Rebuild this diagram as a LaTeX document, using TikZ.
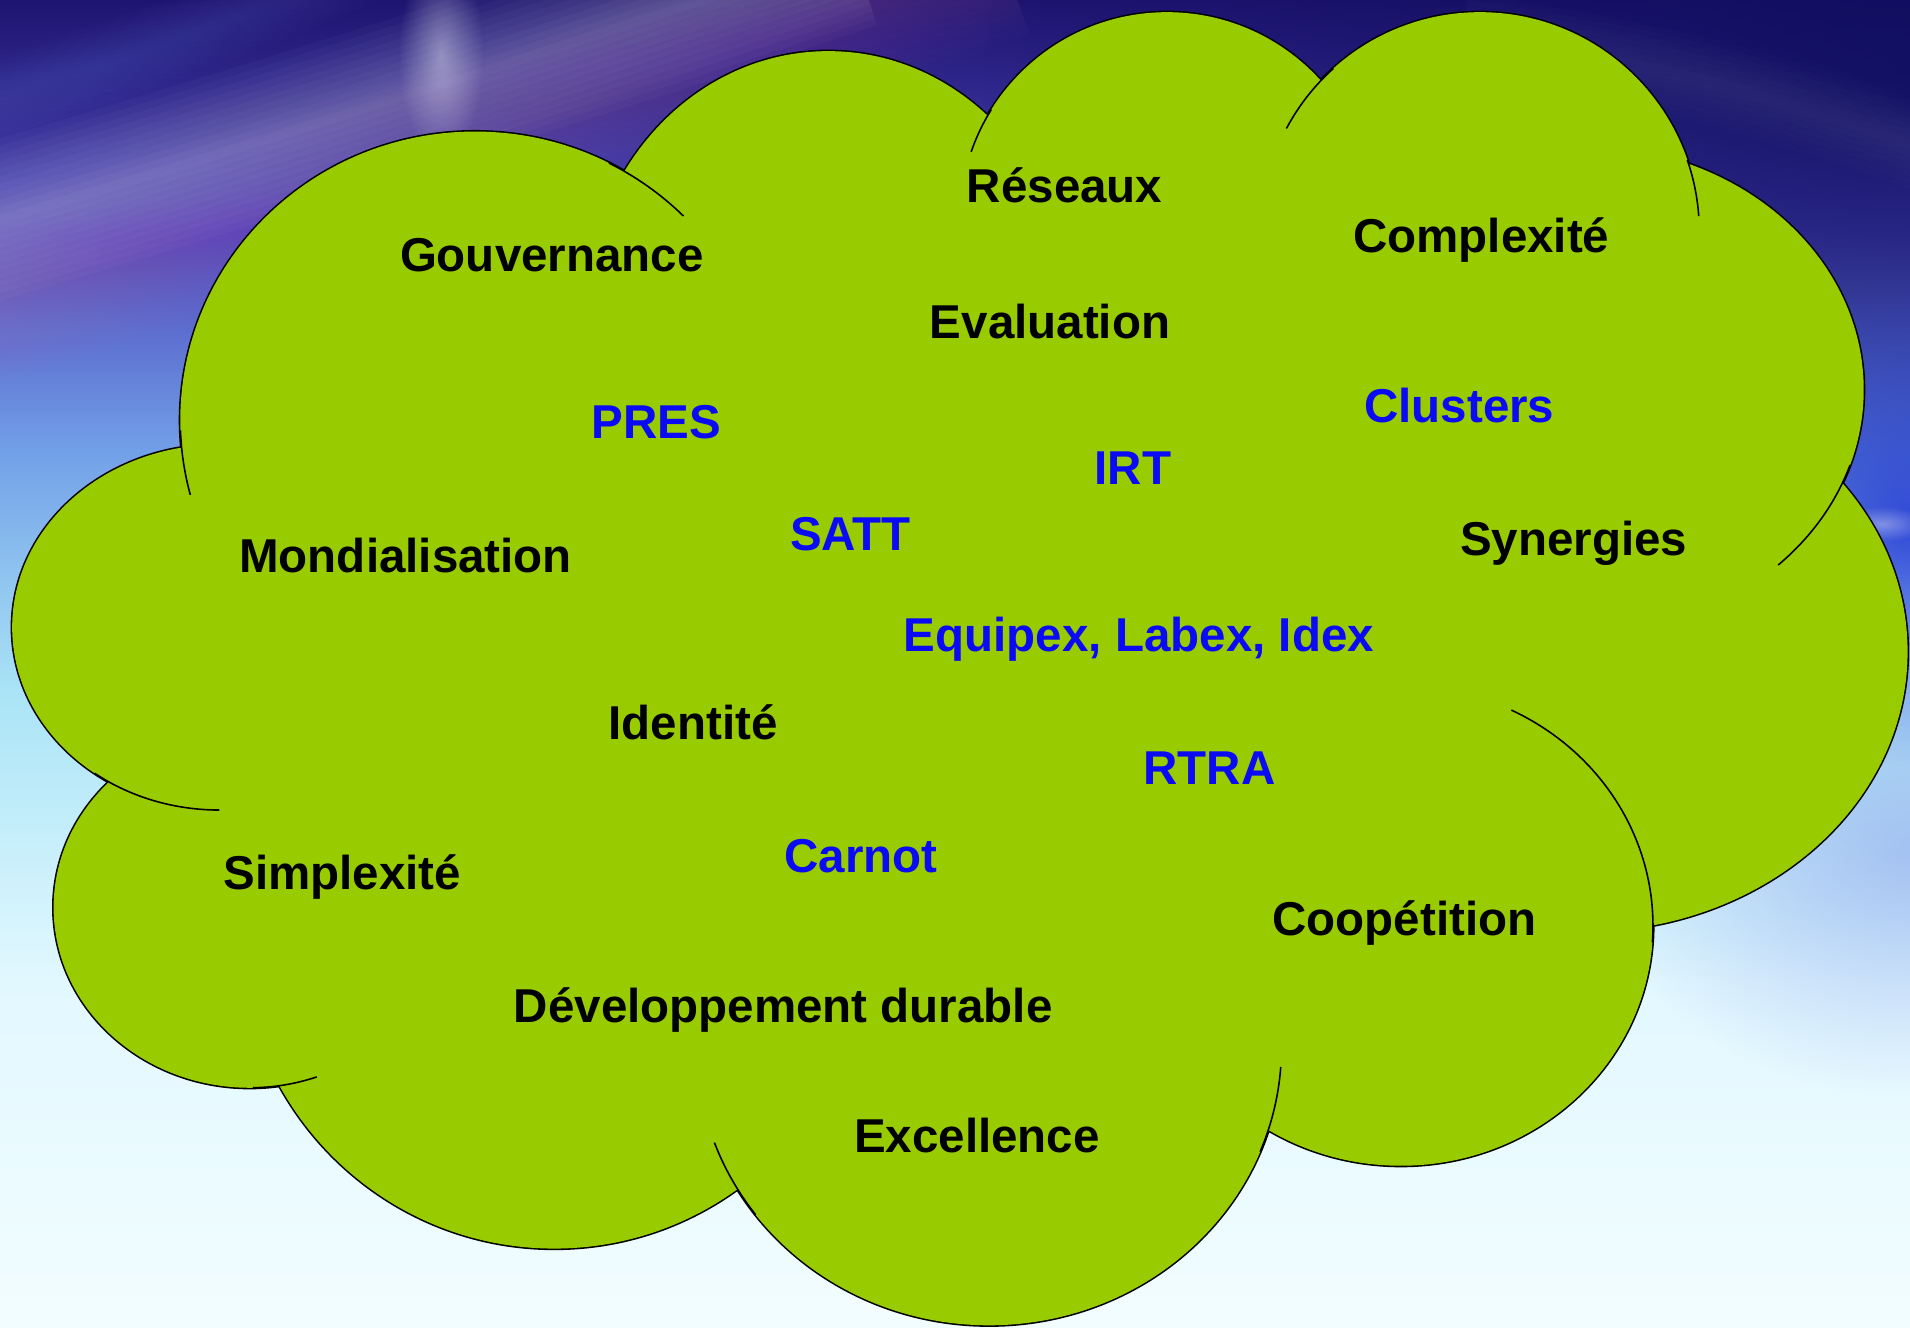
\documentclass[tikz,border=0pt]{standalone}
\usepackage{fontspec}
\setmainfont{Liberation Sans}
\usetikzlibrary{fadings}

\definecolor{lobegreen}{HTML}{99CC00}
\definecolor{wordblue}{HTML}{0A0AF5}
\definecolor{skytop}{HTML}{1E1470}
\definecolor{skyviolet}{HTML}{4C48BC}
\definecolor{skymid}{HTML}{72A0E8}
\definecolor{skycyan}{HTML}{AAE4F6}
\definecolor{skypale}{HTML}{E2F8FF}
\definecolor{skylow}{HTML}{F2FDFF}
\definecolor{skydeep}{HTML}{0C0C5A}
\definecolor{skyroyal}{HTML}{2234D6}
\definecolor{skypink}{HTML}{C070B8}
\definecolor{skylilac}{HTML}{8CA4EC}

\pgfdeclareverticalshading{sky}{100bp}{color(0bp)=(skylow); color(25bp)=(skylow);
  color(38bp)=(skypale); color(49bp)=(skycyan); color(58bp)=(skymid);
  color(66bp)=(skyviolet); color(75bp)=(skytop); color(100bp)=(skytop)}
\tikzfading[name=softspot, inner color=transparent!0, outer color=transparent!100]

\tikzset{
  word/.style={font=\bfseries\fontsize{19.5}{22}\selectfont, anchor=base, inner sep=0pt},
  keyword/.style={word, text=black},
  program/.style={word, text=wordblue},
  rim/.style={draw=black, line width=1.3pt},
  stub/.style={draw=black, line width=0.65pt},
  haze/.style={path fading=softspot},
}

% lobes of the cloud
\newcommand{\cloudlobes}{
  (390,345) ellipse [x radius=242, y radius=237]
  (680,260) ellipse [x radius=200, y radius=218]
  (958,180) circle [radius=170]
  (1215,190) circle [radius=180]
  (1300,320) ellipse [x radius=230, y radius=200]
  (1300,535) ellipse [x radius=266, y radius=230]
  (1150,760) ellipse [x radius=207, y radius=197]
  (812,860) ellipse [x radius=240, y radius=228]
  (455,765) ellipse [x radius=258, y radius=260]
  (205,745) ellipse [x radius=161, y radius=148]
  (180,515) ellipse [x radius=170, y radius=150]
}
\newcommand{\lobearc}[6]{\draw[stub] plot[domain=#5:#6, samples=25, smooth] ({#1+#3*cos(\x)}, {#2+#4*sin(\x)});}

\begin{document}
\begin{tikzpicture}[x=0.5pt, y=-0.5pt]
\useasboundingbox (0,0) rectangle (1568,1090);

% sky
\begin{scope}
\clip (0,0) rectangle (1568,1090);
\shade[shading=sky] (0,0) rectangle (1568,1090);
\fill[skydeep, haze, fill opacity=0.8] (1568,60) ellipse [x radius=760, y radius=420];
\fill[skyroyal, haze, fill opacity=0.8] (1568,430) ellipse [x radius=180, y radius=200];
\fill[skylilac, haze, fill opacity=0.6] (1568,700) ellipse [x radius=260, y radius=200];
\foreach \w in {6,12,...,72}
  \draw[skypink, opacity=0.022, line width=\w] (-20,245) .. controls (200,180) and (450,100) .. (820,-40);
\foreach \w in {4,10,...,64}
  \draw[white, opacity=0.028, line width=\w] (-20,186) .. controls (200,122) and (420,52) .. (700,-40);
\foreach \w in {4,8,...,32}
  \draw[skyroyal!60!white, opacity=0.025, line width=\w] (-20,85) .. controls (80,55) and (170,25) .. (300,-30);
\fill[white, haze, fill opacity=0.4] (362,45) ellipse [x radius=35, y radius=85];
\foreach \w in {5,10,...,35}
  \draw[white, opacity=0.012, line width=\w] (1200,30) .. controls (1350,50) and (1470,80) .. (1600,130);
\fill[white, haze, fill opacity=0.35] (1545,430) ellipse [x radius=40, y radius=14];
\end{scope}

% cloud
\path[rim] \cloudlobes;
\fill[lobegreen] \cloudlobes (800,550) ellipse [x radius=500, y radius=300];
\lobearc{390}{345}{242}{237}{-63}{-45}
\lobearc{390}{345}{242}{237}{165}{178}
\lobearc{958}{180}{170}{170}{199}{212}
\lobearc{1215}{190}{180}{180}{208}{228}
\lobearc{1215}{190}{180}{180}{-19}{-4}
\lobearc{1300}{320}{230}{200}{18}{46}
\lobearc{1150}{760}{207}{197}{-64}{4}
\lobearc{812}{860}{240}{228}{4}{22}
\lobearc{812}{860}{240}{228}{143}{160}
\lobearc{205}{745}{161}{148}{70}{89}
\lobearc{180}{515}{170}{150}{90}{127}

% words
\node[keyword] at (874,166) (reseaux) {Réseaux};
\node[keyword] at (453,223) (gouvernance) {Gouvernance};
\node[keyword] at (1216,207) (complexite) {Complexité};
\node[keyword] at (862,278) (evaluation) {Evaluation};
\node[program] at (1198,347) (clusters) {Clusters};
\node[program] at (539,360) (pres) {PRES};
\node[program] at (930,398) (irt) {IRT};
\node[program] at (698,452) (satt) {SATT};
\node[keyword] at (333,470) (mondialisation) {Mondialisation};
\node[keyword] at (1292,456) (synergies) {Synergies};
\node[program] at (935,535) (excellences) {Equipex, Labex, Idex};
\node[keyword] at (569,607) (identite) {Identité};
\node[program] at (993,644) (rtra) {RTRA};
\node[program] at (707,716) (carnot) {Carnot};
\node[keyword] at (281,730) (simplexite) {Simplexité};
\node[keyword] at (1153,768) (coopetition) {Coopétition};
\node[keyword] at (643,839) (durable) {Développement durable};
\node[keyword] at (802,946) (excellence) {Excellence};
\end{tikzpicture}
\end{document}
